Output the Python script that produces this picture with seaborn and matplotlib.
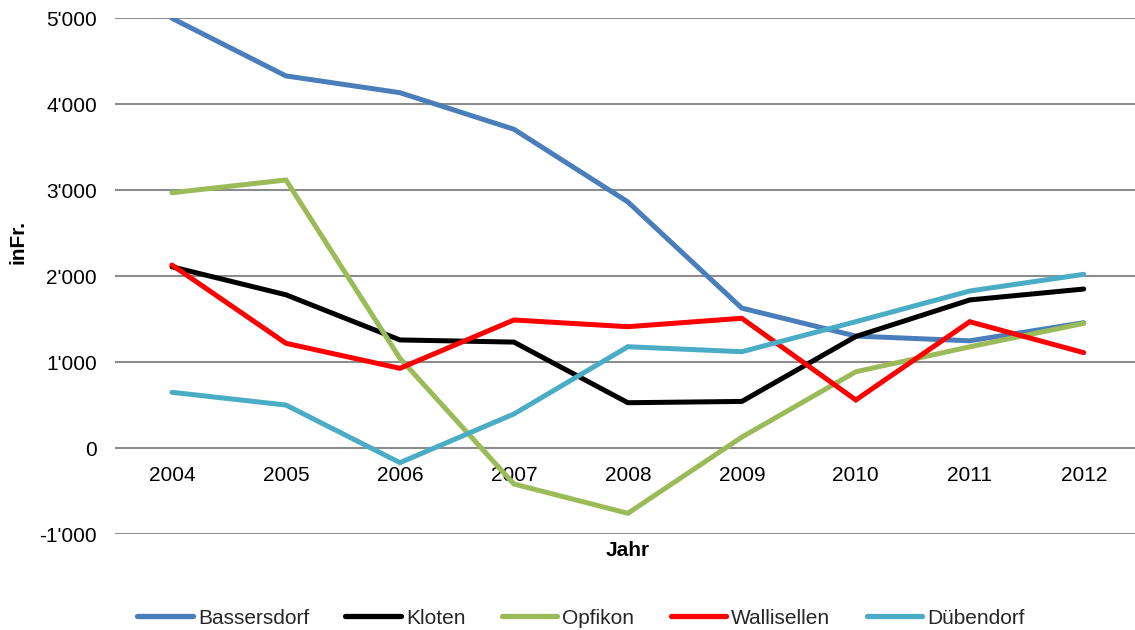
import matplotlib
matplotlib.use("Agg")
import matplotlib.pyplot as plt
import matplotlib.ticker as mticker
import seaborn as sns
import pandas as pd

# Jahresergebnis je Gemeinde (in Fr.)
years = [2004, 2005, 2006, 2007, 2008, 2009, 2010, 2011, 2012]
bassersdorf = [5000, 4330, 4135, 3710, 2865, 1630, 1305, 1250, 1460]
kloten = [2110, 1785, 1260, 1235, 530, 545, 1300, 1725, 1852]
opfikon = [2972, 3120, 1047, -415, -756, 130, 890, 1180, 1453]
wallisellen = [2131, 1221, 930, 1492, 1414, 1512, 562, 1472, 1112]
duebendorf = [651, 503, -167, 399, 1181, 1123, 1472, 1829, 2023]

municipalities = ["Bassersdorf", "Kloten", "Opfikon", "Wallisellen", "Dübendorf"]
colors = ["#4A7EBB", "#000000", "#9BBB59", "#FF0000", "#4BACC6"]
series = [bassersdorf, kloten, opfikon, wallisellen, duebendorf]

y_ticks = [-1000, 0, 1000, 2000, 3000, 4000, 5000]

records = []
for name, vals in zip(municipalities, series):
    for yr, v in zip(years, vals):
        records.append({"Jahr": yr, "Wert": v, "Gemeinde": name})
df = pd.DataFrame(records)

sns.set_theme(style="white")
plt.rcParams["font.family"] = ["Liberation Sans", "DejaVu Sans"]

fig = plt.figure(figsize=(11.35, 6.3), dpi=100)
ax = fig.add_axes([115 / 1135, 1 - 534.3 / 630, 1 - 115 / 1135, (534.3 - 18.3) / 630])

sns.lineplot(data=df, x="Jahr", y="Wert", hue="Gemeinde", hue_order=municipalities,
             palette=dict(zip(municipalities, colors)), linewidth=3.6,
             legend=False, ax=ax, zorder=3)
for ln in ax.get_lines():
    ln.set_solid_capstyle("round")
    ln.set_solid_joinstyle("miter")

ax.set_xlim(2003.5, 2012.45)
ax.set_ylim(-1000, 5000)
ax.set_yticks(y_ticks)
ax.set_xticks(years)
ax.yaxis.set_major_formatter(mticker.FuncFormatter(
    lambda v, p: f"{int(v):,}".replace(",", "'")))

ax.grid(axis="y", color="#8C8C8C", linewidth=1.5, zorder=0)
ax.grid(axis="x", visible=False)
for s in ax.spines.values():
    s.set_visible(False)
ax.spines["bottom"].set_position(("data", 0))

ax.tick_params(axis="y", length=0, pad=13, labelsize=15, labelcolor="black")
ax.tick_params(axis="x", length=0, pad=12.5, labelsize=15, labelcolor="black")

ax.set_xlabel("")
ax.set_ylabel("")
fig.text(628 / 1135, 1 - 550 / 630, "Jahr", ha="center", va="center",
         fontsize=15, fontweight="bold", color="black")
fig.text(18 / 1135, 1 - 242 / 630, "inFr.", ha="center", va="center",
         rotation=90, fontsize=15, fontweight="bold", color="black")

handles = [plt.Line2D([], [], color=c, linewidth=3.8, solid_capstyle="round")
           for c in colors]
fig.legend(handles, municipalities, loc="center", ncol=5, frameon=False,
           bbox_to_anchor=(581 / 1135, 1 - 618 / 630), fontsize=15,
           handlelength=2.65, handletextpad=0.25, columnspacing=1.75)

fig.savefig("out.png", dpi=100)
